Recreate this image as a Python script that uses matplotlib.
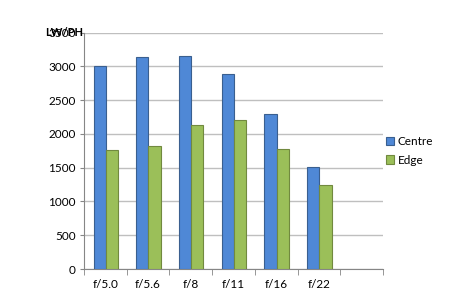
import numpy as np
import matplotlib.pyplot as plt
from matplotlib.ticker import FixedLocator

# values
apertures = ['f/5.0', 'f/5.6', 'f/8', 'f/11', 'f/16', 'f/22', '']
centre = [3010, 3135, 3150, 2890, 2290, 1510, np.nan]
edge = [1760, 1815, 2130, 2200, 1775, 1250, np.nan]

plt.rcParams['font.family'] = ['Lato', 'DejaVu Sans']

fig = plt.figure(figsize=(4.5, 3.02), dpi=100)
ax = fig.add_axes([84 / 450, 33 / 302, 299 / 450, 236.5 / 302])

x = np.arange(len(apertures))
w = 0.286
ax.bar(x - w / 2 + 0.01, centre, w, color='#4f88d6', edgecolor='#3a5f8f', linewidth=0.8, label='Centre', zorder=3)
ax.bar(x + w / 2 + 0.01, edge, w, color='#9bbf59', edgecolor='#71893f', linewidth=0.8, label='Edge', zorder=3)

ax.set_xlim(-0.5, len(apertures) - 0.5)
ax.set_ylim(0, 3500)
ax.set_yticks(range(0, 3501, 500))
ax.yaxis.grid(True, color='#bfbfbf', linewidth=1, zorder=0)

ax.set_xticks(x)
ax.set_xticklabels(apertures)
ax.xaxis.set_minor_locator(FixedLocator(np.arange(-0.5, len(apertures), 1)))
ax.tick_params(axis='x', which='major', length=0, pad=7, labelsize=8.5)
ax.tick_params(axis='x', which='minor', length=4, color='#868686', direction='out')
ax.tick_params(axis='y', length=3, color='#868686', labelsize=8.5, pad=3)

for s in ['top', 'right']:
    ax.spines[s].set_visible(False)
for s in ['left', 'bottom']:
    ax.spines[s].set_color('#868686')

# axis title sits over the top tick label, as in the source
fig.text(45 / 450, 1 - 33 / 302, 'LW/PH', fontsize=8, fontweight='bold', va='center', ha='left')

ax.legend(loc='center left', bbox_to_anchor=(375 / 450, 1 - 151 / 302), bbox_transform=fig.transFigure,
          frameon=False, fontsize=8.5, handlelength=0.7, handleheight=0.7, handletextpad=0.3, labelspacing=0.6)

fig.savefig('out.png', dpi=100)
